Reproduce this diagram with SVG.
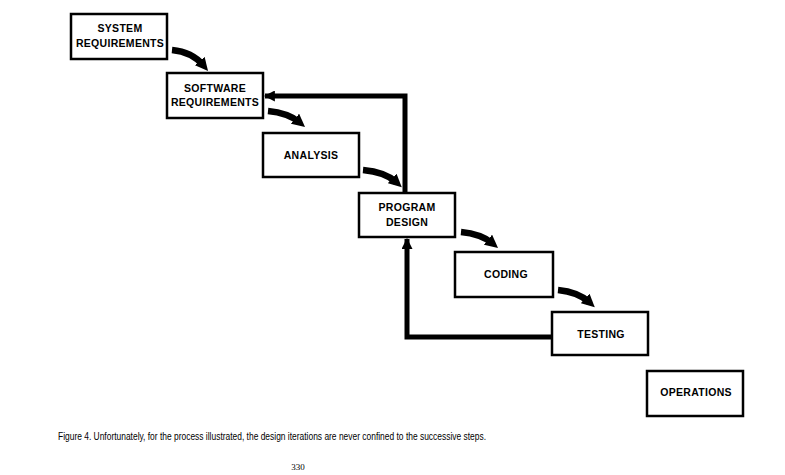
<svg xmlns="http://www.w3.org/2000/svg" width="785" height="475" viewBox="0 0 785 475">
<style>
.box{fill:#fff;stroke:#000;stroke-width:2.5}
.lbl{font-family:"Liberation Sans",Arial,sans-serif;font-weight:bold;font-size:10.5px;letter-spacing:0.3px;text-anchor:middle;fill:#000}
.flow{fill:none;stroke:#000;stroke-width:6.5;stroke-linecap:butt}
.fb{fill:none;stroke:#000;stroke-width:5;stroke-linejoin:miter}
.cap{font-family:"Liberation Sans",Arial,sans-serif;font-size:10.5px;fill:#000}
.pg{font-family:"Liberation Serif","Times New Roman",serif;font-size:9px;text-anchor:middle;fill:#000}
</style>
<defs>
<marker id="ah" viewBox="0 0 10 10" refX="4" refY="5" markerWidth="13" markerHeight="13" markerUnits="userSpaceOnUse" orient="auto">
<path d="M0,0 L10,5 L0,10 z" fill="#000"/>
</marker>
<marker id="fh" viewBox="0 0 10 10" refX="9" refY="5" markerWidth="11" markerHeight="11" markerUnits="userSpaceOnUse" orient="auto">
<path d="M0,0 L10,5 L0,10 z" fill="#000"/>
</marker>
</defs>
<rect width="785" height="475" fill="#fff"/>
<g id="connectors">
<path class="flow" d="M172,50 Q192,52 203,65" marker-end="url(#ah)"/>
<path class="flow" d="M268,111 Q288,113 299,122" marker-end="url(#ah)"/>
<path class="flow" d="M363,170 Q385,172 396,182" marker-end="url(#ah)"/>
<path class="flow" d="M461,232 Q481,234 492,243" marker-end="url(#ah)"/>
<path class="flow" d="M558,290 Q578,292 589,302" marker-end="url(#ah)"/>
<path class="fb" d="M405,193 L405,96 L265,96" marker-end="url(#fh)"/>
<path class="fb" d="M552,337 L407,337 L407,239" marker-end="url(#fh)"/>
</g>
<g id="system-requirements">
<rect class="box" x="71" y="14" width="96" height="45"/>
<text class="lbl" x="120" y="32">SYSTEM</text>
<text class="lbl" x="120" y="46.5">REQUIREMENTS</text>
</g>
<g id="software-requirements">
<rect class="box" x="167" y="73" width="96" height="45"/>
<text class="lbl" x="215" y="91.5">SOFTWARE</text>
<text class="lbl" x="215" y="106">REQUIREMENTS</text>
</g>
<g id="analysis">
<rect class="box" x="263" y="133" width="96" height="44"/>
<text class="lbl" x="311" y="159">ANALYSIS</text>
</g>
<g id="program-design">
<rect class="box" x="359" y="193" width="96" height="44"/>
<text class="lbl" x="407" y="211">PROGRAM</text>
<text class="lbl" x="407" y="225.5">DESIGN</text>
</g>
<g id="coding">
<rect class="box" x="455" y="252" width="98" height="45"/>
<text class="lbl" x="506" y="278">CODING</text>
</g>
<g id="testing">
<rect class="box" x="552" y="312" width="96" height="43"/>
<text class="lbl" x="601" y="337.5">TESTING</text>
</g>
<g id="operations">
<rect class="box" x="647" y="371" width="96" height="45"/>
<text class="lbl" x="696" y="395.5">OPERATIONS</text>
</g>
<text class="cap" x="58" y="439.5" textLength="428" lengthAdjust="spacingAndGlyphs">Figure 4.  Unfortunately, for the process illustrated, the design iterations are never confined to the successive steps.</text>
<text class="pg" x="298" y="470">330</text>
</svg>
